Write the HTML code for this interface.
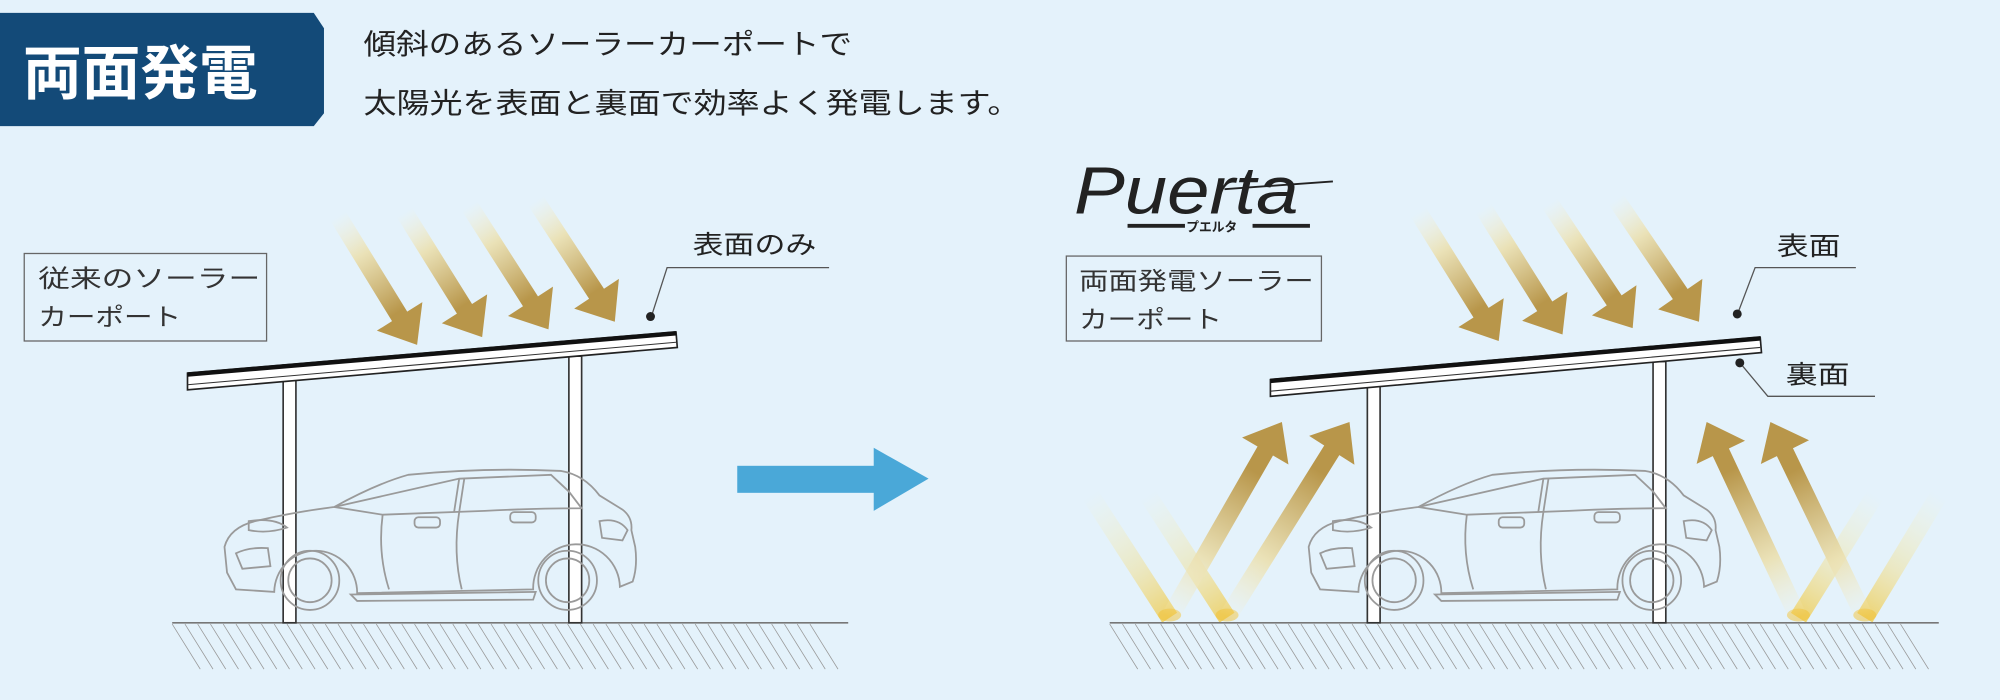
<!DOCTYPE html>
<html><head><meta charset="utf-8"><style>
html,body{margin:0;padding:0;background:#e4f2fb;}
svg{display:block}
text{font-family:"Liberation Sans","Noto Sans CJK JP",sans-serif;}
</style></head><body>
<svg id="s" width="2000" height="700" viewBox="0 0 1568 544" preserveAspectRatio="none" xmlns="http://www.w3.org/2000/svg">
<rect width="1568" height="544" fill="#e4f2fb"/>
<defs>
<g id="car" fill="none" stroke="#9a9a9a" stroke-width="1.4">
<path d="M178,445 L176,425 Q180,410 200,405 Q230,398 262,394 Q295,376 320,369 Q380,363 440,366 Q458,369 470,385 L488,396 Q496,402 495,412 L498,425 Q500,440 496,452 L486,456 A32 32 0 0 0 418,458 L280,461 A32 32 0 0 0 215,460 L185,458 Z"/>
<path d="M262,394 L360,372 L432,369 L446,382 L456,395 Q420,395 380,397 L300,400 Z"/>
<line x1="360" y1="372" x2="356" y2="398"/><line x1="364" y1="372" x2="360" y2="398"/>
<path d="M300,400 Q296,430 305,458"/><path d="M360,398 Q355,430 362,458"/>
<circle cx="243" cy="451" r="23"/><circle cx="243" cy="451" r="17"/>
<circle cx="445" cy="451" r="23"/><circle cx="445" cy="451" r="17"/>
<path d="M185,430 Q195,425 210,426 L212,440 L190,442 Z"/><path d="M195,405 Q215,402 225,410 Q210,415 195,412 Z"/>
<path d="M470,405 Q485,402 492,412 L488,420 L472,418 Z"/>
<rect x="325" y="402" width="20" height="8" rx="3"/><rect x="400" y="398" width="20" height="8" rx="3"/>
<path d="M275,462 L420,460 L418,466 L280,467 Z"/>
</g>
</defs>
<!-- banner -->
<polygon points="0,10 246,10 254,22 254,88 246,98 0,98" fill="#134a78"/>
<text x="18" y="73" font-size="46" fill="#fff" font-weight="bold" textLength="184" lengthAdjust="spacingAndGlyphs">両面発電</text>
<text x="285" y="42" font-size="22" fill="#222" textLength="383" lengthAdjust="spacingAndGlyphs">傾斜のあるソーラーカーポートで</text>
<text x="285" y="88" font-size="22" fill="#222" textLength="515" lengthAdjust="spacingAndGlyphs">太陽光を表面と裏面で効率よく発電します。</text>
<!-- left labels -->
<rect x="19" y="197" width="190" height="68" fill="none" stroke="#666" stroke-width="1"/>
<text x="30" y="223" font-size="19" fill="#333" textLength="174" lengthAdjust="spacingAndGlyphs">従来のソーラー</text>
<text x="30" y="253" font-size="19" fill="#333" textLength="112" lengthAdjust="spacingAndGlyphs">カーポート</text>
<text x="543" y="197" font-size="20" fill="#222" textLength="97" lengthAdjust="spacingAndGlyphs">表面のみ</text>
<polyline points="650,208 523,208 511,245" fill="none" stroke="#555" stroke-width="1"/>
<circle cx="510" cy="246" r="3.5" fill="#222"/>
<!-- right labels -->
<rect x="836" y="199" width="200" height="66" fill="none" stroke="#666" stroke-width="1"/>
<text x="846" y="225" font-size="19" fill="#333" textLength="184" lengthAdjust="spacingAndGlyphs">両面発電ソーラー</text>
<text x="846" y="255" font-size="19" fill="#333" textLength="112" lengthAdjust="spacingAndGlyphs">カーポート</text>
<text x="1393" y="198" font-size="20" fill="#222" textLength="50" lengthAdjust="spacingAndGlyphs">表面</text>
<polyline points="1455,208 1376,208 1363,242" fill="none" stroke="#555" stroke-width="1"/>
<circle cx="1362" cy="244" r="3.5" fill="#222"/>
<text x="1400" y="298" font-size="20" fill="#222" textLength="50" lengthAdjust="spacingAndGlyphs">裏面</text>
<polyline points="1470,308 1386,308 1365,283" fill="none" stroke="#555" stroke-width="1"/>
<circle cx="1364" cy="282" r="3.5" fill="#222"/>
<!-- logo -->
<text x="842" y="166" font-size="52" font-style="italic" font-family="Liberation Serif,serif" fill="#222" textLength="176" lengthAdjust="spacingAndGlyphs">Puerta</text>
<line x1="960" y1="147" x2="1045" y2="141" stroke="#222" stroke-width="1.5"/>
<rect x="884" y="174" width="45" height="3" fill="#222"/><rect x="982" y="174" width="45" height="3" fill="#222"/>
<text x="930" y="180" font-size="10" font-weight="bold" fill="#222">プエルタ</text>
<!-- blue arrow -->
<rect x="578" y="362" width="108" height="21" fill="#4aa8d8"/>
<polygon points="685,348 728,372 685,397" fill="#4aa8d8"/>
<g id="dyn"></g>
</svg>
<script>
var NS="http://www.w3.org/2000/svg",g=document.getElementById('dyn'),defs=document.querySelector('defs'),id=0;
function el(t,a,p){var e=document.createElementNS(NS,t);for(var k in a)e.setAttribute(k,a[k]);(p||g).appendChild(e);return e;}
function grad(x1,y1,x2,y2,stops){var gid='g'+(id++);var lg=el('linearGradient',{id:gid,gradientUnits:'userSpaceOnUse',x1:x1,y1:y1,x2:x2,y2:y2},defs);
stops.forEach(function(s){el('stop',{offset:s[0],'stop-color':s[1],'stop-opacity':s[2]},lg);});return 'url(#'+gid+')';}
function arrow(ax,ay,bx,by){var dx=bx-ax,dy=by-ay,L=Math.hypot(dx,dy),ux=dx/L,uy=dy/L,nx=-uy,ny=ux,w=7,hw=21,hl=26;
var cx=bx-ux*hl,cy=by-uy*hl;
var p=[[ax+nx*w,ay+ny*w],[cx+nx*w,cy+ny*w],[cx+nx*hw,cy+ny*hw],[bx,by],[cx-nx*hw,cy-ny*hw],[cx-nx*w,cy-ny*w],[ax-nx*w,ay-ny*w]];
el('polygon',{points:p.map(function(q){return q.join(',')}).join(' '),fill:grad(ax,ay,bx,by,[[0,'#f6f0d0',0],[0.3,'#ebe0b0',0.9],[0.75,'#b8964a',1],[1,'#b8964a',1]])});}
function beam(ax,ay,bx,by){var dx=bx-ax,dy=by-ay,L=Math.hypot(dx,dy),ux=dx/L,uy=dy/L,nx=-uy,ny=ux,w=7;
el('polygon',{points:[[ax+nx*w,ay+ny*w],[bx+nx*w,by+ny*w],[bx-nx*w,by-ny*w],[ax-nx*w,ay-ny*w]].map(function(q){return q.join(',')}).join(' '),fill:grad(ax,ay,bx,by,[[0,'#fff3b0',0],[0.6,'#f3dc80',0.45],[1,'#f0c840',0.75]])});}
function carport(x0,y0,x1,y1,p1,p2,gx0,gx1){
 el('line',{x1:gx0,y1:484,x2:gx1,y2:484,stroke:'#777','stroke-width':1.3});
 for(var x=gx0;x<gx1-20;x+=10)el('line',{x1:x,y1:485,x2:x+22,y2:520,stroke:'#999','stroke-width':0.6});
 [p1,p2].forEach(function(p){var yt=y0+(y1-y0)*(p[0]-x0)/(x1-x0);
  el('rect',{x:p[0],y:yt,width:10,height:484-yt,fill:'#fff',stroke:'#333','stroke-width':1.3});
  el('line',{x1:p[0],y1:yt+12,x2:p[0]+10,y2:yt+12,stroke:'#333','stroke-width':0.8});});
 el('polygon',{points:[x0,y0,x1,y1,x1+1,y1+12,x0,y0+13].join(','),fill:'#fff',stroke:'#222','stroke-width':1.3});
 el('line',{x1:x0,y1:y0+1,x2:x1,y2:y1+1,stroke:'#111','stroke-width':3.5});
 el('line',{x1:x0,y1:y0+9,x2:x1,y2:y1+8,stroke:'#333','stroke-width':0.8});
}
carport(147,290,530,258,[222,0],[446,0],135,665);
el('use',{href:'#car'});
[[265,168,327,268],[317,165,378,262],[368,160,430,256],[420,156,482,250]].forEach(function(a){arrow(a[0],a[1],a[2],a[3]);});
[[855,385,917,480],[900,385,962,480],[1470,385,1410,480],[1520,385,1462,480]].forEach(function(b){beam(b[0],b[1],b[2],b[3]);});
[[917,478],[962,478],[1410,478],[1462,478]].forEach(function(c){el('ellipse',{cx:c[0],cy:c[1],rx:9,ry:5,fill:'#f2c030',opacity:0.5});});
carport(996,295,1380,262,[1072,0],[1296,0],870,1520);
el('use',{href:'#car',transform:'translate(850,0)'});
[[1112,165,1175,265],[1163,162,1225,260],[1215,158,1280,255],[1267,155,1332,250]].forEach(function(a){arrow(a[0],a[1],a[2],a[3]);});
[[917,480,1005,328],[962,480,1058,328],[1410,480,1338,328],[1462,480,1388,328]].forEach(function(a){arrow(a[0],a[1],a[2],a[3]);});
</script>
</body></html>
